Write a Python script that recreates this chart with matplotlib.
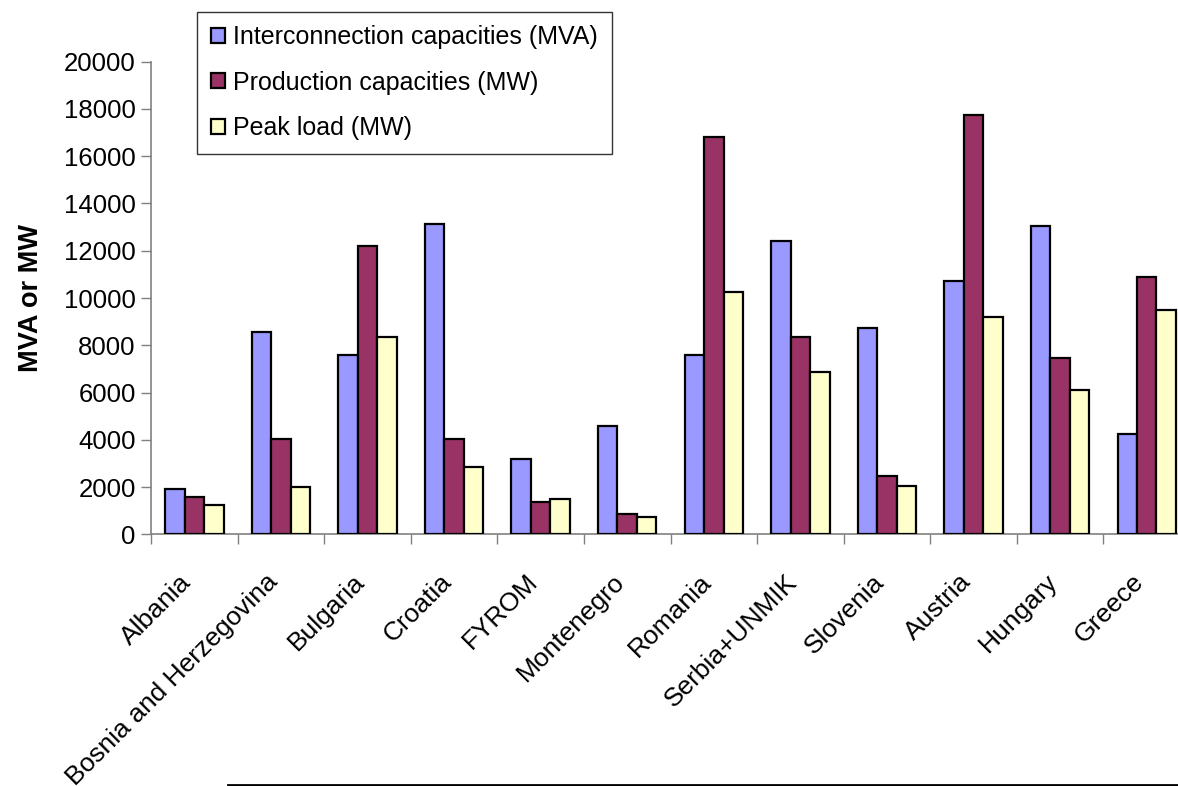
import numpy as np
import matplotlib
matplotlib.use('Agg')
import matplotlib.pyplot as plt
from matplotlib.lines import Line2D
from matplotlib.transforms import ScaledTranslation

plt.rcParams['font.family'] = ['Liberation Sans', 'DejaVu Sans']

countries = ['Albania', 'Bosnia and Herzegovina', 'Bulgaria', 'Croatia', 'FYROM',
             'Montenegro', 'Romania', 'Serbia+UNMIK', 'Slovenia', 'Austria',
             'Hungary', 'Greece']
interconnection = [1900, 8550, 7600, 13150, 3200, 4600, 7600, 12400, 8750, 10700, 13050, 4250]
production = [1600, 4050, 12200, 4050, 1350, 850, 16800, 8350, 2450, 17750, 7450, 10900]
peak_load = [1250, 2000, 8350, 2850, 1500, 750, 10250, 6850, 2050, 9200, 6100, 9500]

series = [
    ('Interconnection capacities (MVA)', interconnection, '#9999FF'),
    ('Production capacities (MW)', production, '#993366'),
    ('Peak load (MW)', peak_load, '#FFFFCC'),
]

fig = plt.figure(figsize=(11.78, 7.86), dpi=100)
ax = fig.add_axes([0.1282, 0.3202, 0.882, 0.6013])

x = np.arange(len(countries))
width = 0.225
for i, (label, vals, color) in enumerate(series):
    ax.bar(x + (i - 1) * width, vals, width, color=color, edgecolor='black',
           linewidth=1.6, label=label, zorder=3)

ax.set_xlim(-0.5, len(countries) - 0.5)
ax.set_ylim(0, 20000)
ax.set_yticks(np.arange(0, 20001, 2000))
ax.tick_params(axis='y', labelsize=18.5, length=7, width=1, color='#808080', pad=4)

# category boundaries carry the x ticks, labels sit at the centres
ax.set_xticks(np.arange(-0.5, len(countries), 1.0))
ax.set_xticklabels([])
ax.set_xticks(x, minor=True)
ax.set_xticklabels(countries, minor=True, rotation=45, ha='right',
                   rotation_mode='anchor', fontsize=19)
ax.tick_params(axis='x', which='major', length=7, width=1, color='#808080')
ax.tick_params(axis='x', which='minor', length=0, pad=14)
shift = ScaledTranslation(-15 / 100, -16 / 100, fig.dpi_scale_trans)
for lab in ax.get_xticklabels(minor=True):
    lab.set_transform(lab.get_transform() + shift)

for s in ['top', 'right']:
    ax.spines[s].set_visible(False)
for s in ['left', 'bottom']:
    ax.spines[s].set_color('#808080')
    ax.spines[s].set_linewidth(1.2)

ax.set_ylabel('MVA or MW', fontsize=19.5, fontweight='bold', labelpad=14)

leg = ax.legend(loc='upper left', bbox_to_anchor=(197 / 1178, 774.3 / 786),
                bbox_transform=fig.transFigure, fontsize=18, frameon=True,
                fancybox=False, edgecolor='black', handlelength=0.55,
                handleheight=0.55, handletextpad=0.35, labelspacing=0.85,
                borderpad=0.55, borderaxespad=0)
leg.get_frame().set_linewidth(1.0)

fig.add_artist(Line2D([228 / 1178, 1.0], [1.5 / 786, 1.5 / 786],
                      transform=fig.transFigure, color='black', linewidth=2))

fig.savefig('out.png', dpi=100)
